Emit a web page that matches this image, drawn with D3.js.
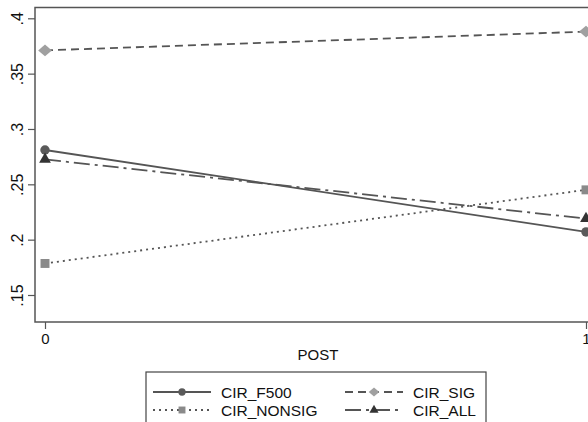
<!DOCTYPE html>
<html>
<head>
<meta charset="utf-8">
<script src="https://cdn.jsdelivr.net/npm/d3@7"></script>
<style>
  body { margin: 0; background: #fff; }
  text { font-family: "Liberation Sans", Arial, sans-serif; fill: #111; }
</style>
</head>
<body>
<div id="chart"></div>
<script>
// data
var posts = [0, 1];
var yTicks = [0.15, 0.2, 0.25, 0.3, 0.35, 0.4];
var cirF500 = [0.281, 0.207];
var cirSig = [0.371, 0.388];
var cirNonsig = [0.1785, 0.245];
var cirAll = [0.2725, 0.219];

var width = 588, height = 422;

var svg = d3.select("#chart")
  .append("svg")
    .attr("width", width)
    .attr("height", height);

// scales
var x = d3.scaleLinear().domain([0, 1]).range([45, 586]);
var y = d3.scaleLinear().domain([0.15, 0.4]).range([295, 18.3]);

var plotLeft = 35, plotTop = 7.5, plotBottom = 322;

// plot frame (right edge is off the page)
svg.append("path")
  .attr("d", "M" + (width + 5) + "," + plotTop + "H" + plotLeft + "V" + plotBottom + "H" + (width + 5))
  .attr("fill", "none")
  .attr("stroke", "#555")
  .attr("stroke-width", 1.5);

// y axis
var yAxis = svg.append("g")
  .attr("transform", "translate(" + plotLeft + ",0)")
  .call(d3.axisLeft(y).tickValues(yTicks).tickSize(7)
    .tickFormat(function(d) { return d3.format(".2f")(d).replace(/^0/, "").replace(/0$/, ""); }));
yAxis.select(".domain").remove();
yAxis.selectAll("line").attr("stroke", "#555").attr("stroke-width", 1.2);
yAxis.selectAll("text")
  .attr("x", null).attr("dy", null)
  .attr("transform", "translate(-12,0) rotate(-90)")
  .attr("text-anchor", "middle")
  .style("font-size", "16px")
  .style("font-family", "Liberation Sans, Arial, sans-serif")
  .attr("fill", "#111");

// x axis
var xAxis = svg.append("g")
  .attr("transform", "translate(0," + plotBottom + ")")
  .call(d3.axisBottom(x).tickValues(posts).tickSize(7).tickFormat(d3.format("d")));
xAxis.select(".domain").remove();
xAxis.selectAll("line").attr("stroke", "#555").attr("stroke-width", 1.2);
xAxis.selectAll("text")
  .attr("y", 11)
  .style("font-size", "15px")
  .style("font-family", "Liberation Sans, Arial, sans-serif")
  .attr("fill", "#111");

svg.append("text")
  .attr("x", 318)
  .attr("y", 360)
  .attr("text-anchor", "middle")
  .style("font-size", "15px")
  .text("POST");

// squat diamond like the reference marker
var wideDiamond = {
  draw: function(context, size) {
    var r = Math.sqrt(size) * 0.72;
    context.moveTo(-r, 0);
    context.lineTo(0, -r * 0.85);
    context.lineTo(r, 0);
    context.lineTo(0, r * 0.85);
    context.closePath();
  }
};

var series = [
  { name: "CIR_F500", values: cirF500, dash: null, lineColor: "#555", markColor: "#5a5a5a", symbol: d3.symbolCircle, size: 70 },
  { name: "CIR_NONSIG", values: cirNonsig, dash: "2,4", lineColor: "#555", markColor: "#8a8a8a", symbol: d3.symbolSquare, size: 80 },
  { name: "CIR_SIG", values: cirSig, dash: "8,5", lineColor: "#555", markColor: "#a0a0a0", symbol: wideDiamond, size: 90 },
  { name: "CIR_ALL", values: cirAll, dash: "16,5,3,5", lineColor: "#555", markColor: "#333", symbol: d3.symbolTriangle, size: 60 }
];

var line = d3.line()
  .x(function(d, i) { return x(posts[i]); })
  .y(function(d) { return y(d); });

series.forEach(function(s) {
  svg.append("path")
    .datum(s.values)
    .attr("d", line)
    .attr("fill", "none")
    .attr("stroke", s.lineColor)
    .attr("stroke-width", 1.8)
    .attr("stroke-dasharray", s.dash);
  svg.selectAll(null)
    .data(s.values)
    .enter().append("path")
      .attr("d", d3.symbol().type(s.symbol).size(s.size))
      .attr("transform", function(d, i) { return "translate(" + x(posts[i]) + "," + y(d) + ")"; })
      .attr("fill", s.markColor);
});

// legend
var legend = svg.append("g");
legend.append("rect")
  .attr("x", 146).attr("y", 372)
  .attr("width", 340).attr("height", 70)
  .attr("fill", "#fff")
  .attr("stroke", "#444")
  .attr("stroke-width", 1.2);

var legendPos = [
  { s: series[0], x: 153, y: 392 },
  { s: series[2], x: 345, y: 392 },
  { s: series[1], x: 153, y: 410 },
  { s: series[3], x: 345, y: 410 }
];
legendPos.forEach(function(p) {
  legend.append("line")
    .attr("x1", p.x).attr("x2", p.x + 58)
    .attr("y1", p.y).attr("y2", p.y)
    .attr("stroke", p.s.lineColor)
    .attr("stroke-width", 1.8)
    .attr("stroke-dasharray", p.s.dash);
  legend.append("path")
    .attr("d", d3.symbol().type(p.s.symbol).size(p.s.size * 0.6))
    .attr("transform", "translate(" + (p.x + 29) + "," + p.y + ")")
    .attr("fill", p.s.markColor);
  legend.append("text")
    .attr("x", p.x + 68)
    .attr("y", p.y + 5.5)
    .style("font-size", "15.5px")
    .text(p.s.name);
});
</script>
</body>
</html>
